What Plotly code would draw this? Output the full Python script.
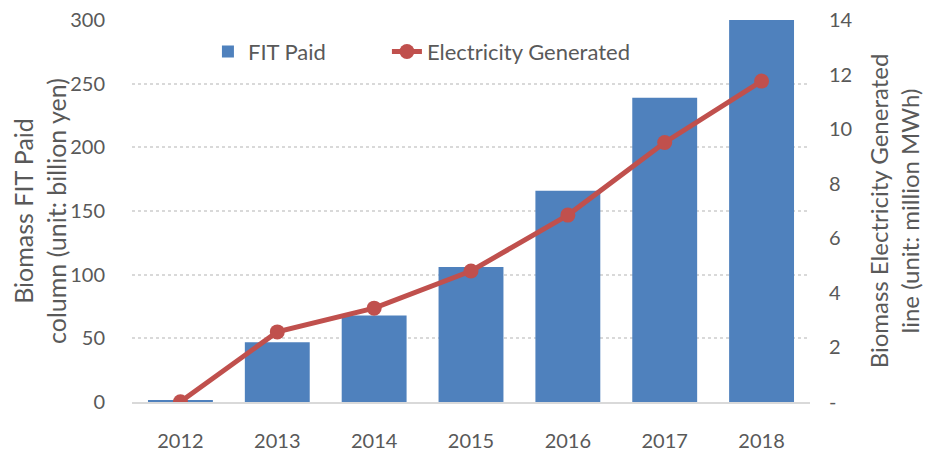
import plotly.graph_objects as go

years = ["2012", "2013", "2014", "2015", "2016", "2017", "2018"]
fit_paid = [0.8, 47, 68, 106, 166, 239, 300]
electricity = [0.01, 2.57, 3.44, 4.8, 6.85, 9.51, 11.76]

right_ticks = [0, 2, 4, 6, 8, 10, 12, 14]
right_labels = ["-", "2", "4", "6", "8", "10", "12", "14"]

grey = "#595959"
family = "Lato, Open Sans, sans-serif"
font = dict(family=family, size=20, color=grey)
title_font = dict(family=family, size=25, color=grey)
legend_font = dict(family=family, size=22, color=grey)

fig = go.Figure()
fig.add_trace(
    go.Bar(
        x=years,
        y=fit_paid,
        name="FIT Paid",
        marker_color="#4F81BD",
        marker_line_width=0,
        showlegend=True,
    )
)
fig.add_trace(
    go.Scatter(
        x=years,
        y=electricity,
        name="Electricity Generated",
        yaxis="y2",
        mode="lines+markers",
        line=dict(color="#C0504D", width=5),
        marker=dict(color="#C0504D", size=15),
        legend="legend2",
        showlegend=True,
    )
)

# page body adds an 8px offset, so the figure is drawn slightly smaller
fig.update_layout(
    width=923,
    height=444,
    margin=dict(l=124, r=121, t=12, b=50),
    paper_bgcolor="white",
    plot_bgcolor="white",
    font=font,
    bargap=0.33,
    showlegend=True,
    legend=dict(
        orientation="h",
        x=0.112,
        y=0.972,
        xanchor="left",
        yanchor="top",
        bgcolor="rgba(0,0,0,0)",
        font=legend_font,
    ),
    legend2=dict(
        orientation="h",
        x=0.376,
        y=0.972,
        xanchor="left",
        yanchor="top",
        bgcolor="rgba(0,0,0,0)",
        font=legend_font,
    ),
    xaxis=dict(
        showgrid=False,
        showline=True,
        linecolor="#D9D9D9",
        linewidth=2,
        ticks="outside",
        ticklen=20,
        tickcolor="rgba(0,0,0,0)",
        tickfont=font,
        automargin=False,
        ticklabeloverflow="allow",
    ),
    yaxis=dict(
        range=[0, 300],
        dtick=50,
        showgrid=True,
        gridcolor="#D9D9D9",
        griddash="dot",
        gridwidth=1.5,
        zeroline=False,
        ticks="outside",
        ticklen=22,
        tickcolor="rgba(0,0,0,0)",
        tickfont=font,
        automargin=False,
        ticklabeloverflow="allow",
        title=dict(
            text="Biomass FIT Paid<br>column (unit: billion yen)",
            font=title_font,
            standoff=2,
        ),
    ),
    yaxis2=dict(
        range=[0, 14],
        overlaying="y",
        side="right",
        tickvals=right_ticks,
        ticktext=right_labels,
        showgrid=False,
        zeroline=False,
        ticks="outside",
        ticklen=14,
        tickcolor="rgba(0,0,0,0)",
        tickfont=font,
        automargin=False,
        ticklabeloverflow="allow",
        title=dict(
            text="Biomass Electricity Generated<br>line (unit: million MWh)",
            font=dict(family=family, size=24, color=grey),
            standoff=19,
        ),
    ),
)

fig.write_html("out.html")
